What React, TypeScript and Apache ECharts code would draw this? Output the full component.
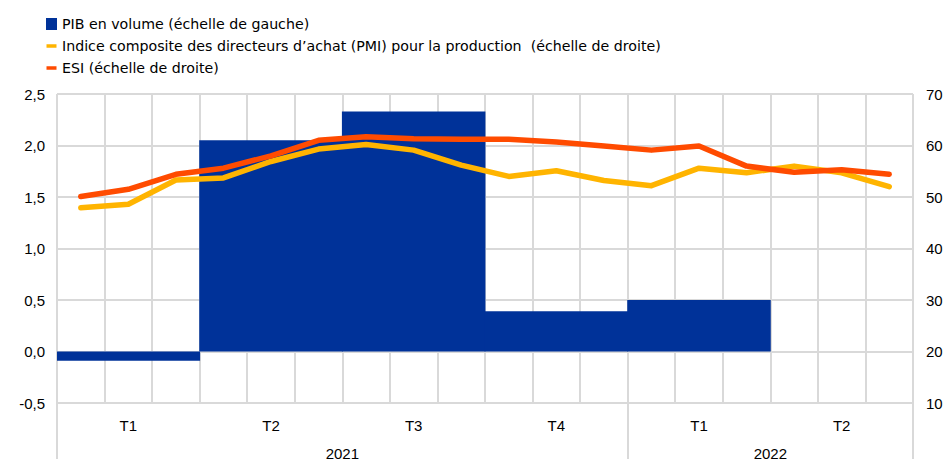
import React, { useEffect, useRef } from "react";
import * as echarts from "echarts";

const quarters = ["T1", "T2", "T3", "T4", "T1", "T2"];
const months = [
  "2021-01", "2021-02", "2021-03", "2021-04", "2021-05", "2021-06",
  "2021-07", "2021-08", "2021-09", "2021-10", "2021-11", "2021-12",
  "2022-01", "2022-02", "2022-03", "2022-04", "2022-05", "2022-06",
];
const yearSlots = ["", "", "2021", "", "", "2022", ""];
const gdp = [-0.09, 2.05, 2.33, 0.39, 0.5, null];
const pmi = [47.9, 48.6, 53.3, 53.7, 56.9, 59.3, 60.2, 59.1, 56.2, 54.0, 55.1, 53.2, 52.2, 55.6, 54.7, 56.0, 54.7, 52.0];
const esi = [50.1, 51.5, 54.4, 55.6, 58.0, 61.0, 61.7, 61.3, 61.2, 61.2, 60.7, 59.9, 59.1, 59.9, 56.0, 54.8, 55.3, 54.4];

const names = [
  "PIB en volume (échelle de gauche)",
  "Indice composite des directeurs d\u2019achat (PMI) pour la production  (échelle de droite)",
  "ESI (échelle de droite)",
];

const FONT = "Liberation Sans";
const LEGEND_FONT = "DejaVu Sans";
const GRID = "#d9d9d9";
const LINE_ICON = "path://M0,4.2L10,4.2L10,7.8L0,7.8Z M0,0L0.01,0 M0,12L0.01,12";

export default function App() {
  const ref = useRef<HTMLDivElement>(null);
  useEffect(() => {
    const chart = echarts.init(ref.current!, null, { renderer: "svg" });
    chart.setOption({
      animation: false,
      textStyle: { fontFamily: FONT },
      legend: {
        orient: "vertical",
        left: 41,
        top: 12,
        itemGap: 8,
        itemWidth: 11,
        itemHeight: 12,
        textStyle: { fontFamily: LEGEND_FONT, fontSize: 14.2, color: "#000" },
        data: [
          { name: names[0], icon: "rect" },
          { name: names[1], icon: LINE_ICON },
          { name: names[2], icon: LINE_ICON },
        ],
      },
      grid: { left: 57, right: 34, top: 94, bottom: 56 },
      xAxis: [
        {
          type: "category",
          data: quarters,
          position: "bottom",
          axisLine: { show: true, lineStyle: { color: GRID, width: 2 } },
          axisTick: { show: false },
          axisLabel: { color: "#000", fontSize: 15, margin: 15, fontFamily: FONT },
          splitLine: { show: false },
        },
        {
          type: "category",
          data: months,
          position: "bottom",
          boundaryGap: true,
          axisLine: { show: false },
          axisTick: { show: false },
          axisLabel: { show: false },
          splitLine: { show: true, interval: 0, lineStyle: { color: GRID, width: 2 } },
        },
        {
          type: "category",
          data: yearSlots,
          position: "bottom",
          boundaryGap: false,
          axisLine: { show: false },
          axisTick: {
            show: true,
            length: 56,
            interval: (i: number) => i === 0 || i === 4 || i === 6,
            lineStyle: { color: GRID, width: 2 },
          },
          axisLabel: { interval: 0, color: "#000", fontSize: 15, margin: 43, fontFamily: FONT },
          splitLine: { show: false },
        },
      ],
      yAxis: [
        {
          type: "value",
          min: -0.5,
          max: 2.5,
          interval: 0.5,
          axisLine: { show: false },
          axisTick: { show: false },
          axisLabel: {
            color: "#000",
            fontSize: 15,
            margin: 12,
            fontFamily: FONT,
            formatter: (v: number) => v.toFixed(1).replace(".", ","),
          },
          splitLine: { show: true, lineStyle: { color: GRID, width: 2 } },
        },
        {
          type: "value",
          min: 10,
          max: 70,
          interval: 10,
          position: "right",
          axisLine: { show: false },
          axisTick: { show: false },
          axisLabel: { color: "#000", fontSize: 15, margin: 13, fontFamily: FONT },
          splitLine: { show: false },
        },
      ],
      series: [
        {
          name: names[0],
          type: "bar",
          xAxisIndex: 0,
          yAxisIndex: 0,
          data: gdp,
          barWidth: "100.6%",
          barGap: "0%",
          itemStyle: { color: "#003299" },
          z: 2,
        },
        {
          name: names[1],
          type: "line",
          xAxisIndex: 1,
          yAxisIndex: 1,
          data: pmi,
          showSymbol: false,
          symbol: "none",
          lineStyle: { color: "#FFB400", width: 5.5, cap: "round", join: "round" },
          itemStyle: { color: "#FFB400" },
          z: 3,
        },
        {
          name: names[2],
          type: "line",
          xAxisIndex: 1,
          yAxisIndex: 1,
          data: esi,
          showSymbol: false,
          symbol: "none",
          lineStyle: { color: "#FF4B00", width: 5.5, cap: "round", join: "round" },
          itemStyle: { color: "#FF4B00" },
          z: 4,
        },
      ],
    });
    return () => chart.dispose();
  }, []);
  return <div ref={ref} style={{ width: 947, height: 461, position: "absolute", left: 0, top: 0 }} />;
}
